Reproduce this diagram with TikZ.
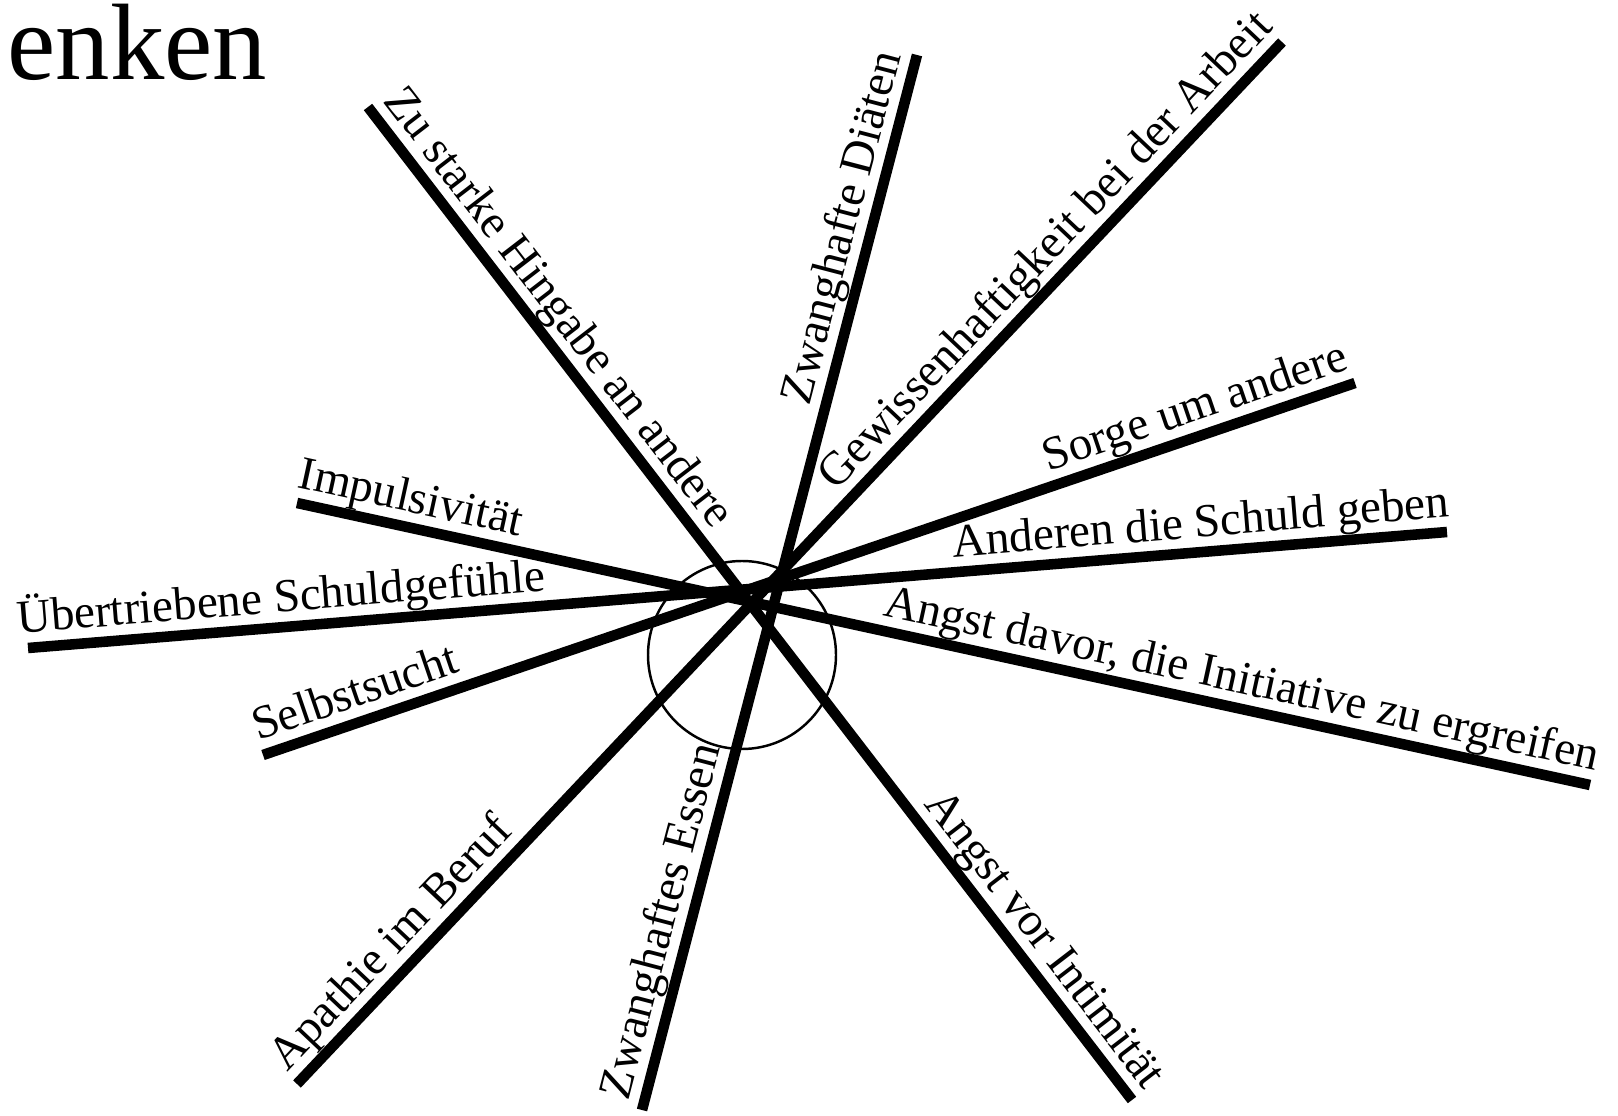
\documentclass[tikz,border=0pt]{standalone}
\usepackage{fontspec}
\setmainfont{Liberation Serif}

\begin{document}
\begin{tikzpicture}[
  x=0.01cm, y=-0.01cm,
  font=\fontsize{13.4pt}{16pt}\selectfont,
  beam/.style={draw=black, line width=3pt, line cap=butt},
  ring/.style={draw=black, line width=0.7pt},
  beamtext/.style={
    sloped,
    above,
    text depth=0pt,
    inner xsep=0pt,
    inner ysep=4.3pt,
    outer sep=0pt
  },
  heading/.style={anchor=base west, inner sep=0pt, font=\fontsize{30.9pt}{36pt}\selectfont}
]
  \useasboundingbox (0,0) rectangle (1618,1116);

  \node[heading] (title) at (7,80) {enken};

  % outer ends of the six strokes
  \coordinate (hingabe)    at (368,107);
  \coordinate (intimitaet) at (1132,1100);
  \coordinate (diaeten)    at (917,55);
  \coordinate (essen)      at (642,1110);
  \coordinate (arbeit)     at (1282,42);
  \coordinate (beruf)      at (297,1084);
  \coordinate (sorge)      at (1355,383);
  \coordinate (selbst)     at (263,755);
  \coordinate (schuld)     at (1447,532);
  \coordinate (gefuehle)   at (28,648);
  \coordinate (initiative) at (1590,785);
  \coordinate (impuls)     at (297,503);
  \coordinate (hub)        at (742,655);

  \draw[ring] (hub) circle[radius=94];

  \draw[beam] (hingabe) --
    node[beamtext, pos=0.2195] (tHingabe) {Zu starke Hingabe an andere}
    node[beamtext, pos=0.856] (tIntim) {Angst vor Intimität} (intimitaet);
  \draw[beam] (diaeten) --
    node[beamtext, pos=0.1706] (tDiaeten) {Zwanghafte Diäten}
    node[beamtext, pos=0.828] (tEssen) {Zwanghaftes Essen} (essen);
  \draw[beam] (arbeit) --
    node[beamtext, pos=0.219] (tArbeit) {Gewissenhaftigkeit bei der Arbeit}
    node[beamtext, pos=0.8836] (tBeruf) {Apathie im Beruf} (beruf);
  \draw[beam] (sorge) --
    node[beamtext, pos=0.138] (tSorge) {Sorge um andere}
    node[beamtext, pos=0.907] (tSelbst) {Selbstsucht} (selbst);
  \draw[beam] (schuld) --
    node[beamtext, pos=0.172] (tSchuld) {Anderen die Schuld geben}
    node[beamtext, pos=0.820] (tGefuehle) {Übertriebene Schuldgefühle} (gefuehle);
  \draw[beam] (initiative) --
    node[beamtext, pos=0.274] (tInitiative) {Angst davor, die Initiative zu ergreifen}
    node[beamtext, pos=0.9166] (tImpuls) {Impulsivität} (impuls);
\end{tikzpicture}
\end{document}
